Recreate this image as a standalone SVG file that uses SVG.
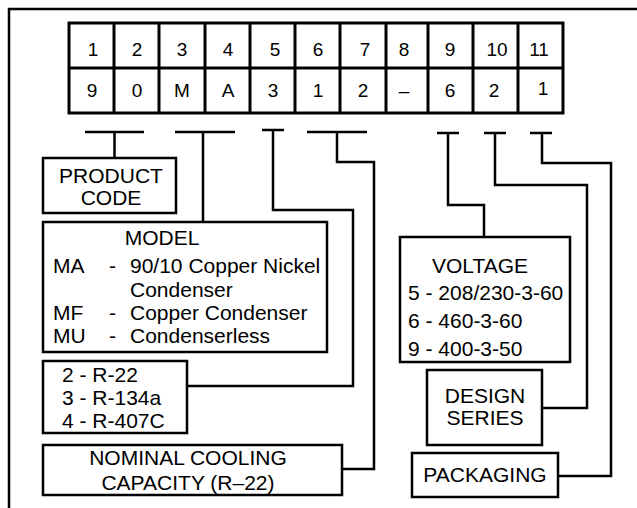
<svg xmlns="http://www.w3.org/2000/svg" width="637" height="508" viewBox="0 0 637 508">
<style>
text{font-family:"Liberation Sans",Arial,sans-serif;font-size:21px;fill:#000}
.c{text-anchor:middle}
.d{font-size:19px;text-anchor:middle}
.box{fill:#fff;stroke:#000;stroke-width:2.5}
.ln{fill:none;stroke:#000;stroke-width:2.5}
.tb{fill:none;stroke:#000;stroke-width:3}
</style>
<rect width="637" height="508" fill="#fff"/>
<path class="ln" d="M9,508 V9 H637"/>
<g id="table">
<rect class="tb" x="69" y="23" width="494" height="90"/>
<path class="tb" d="M69,68 H563 M114,23 V113 M159,23 V113 M205,23 V113 M250,23 V113 M295,23 V113 M340,23 V113 M386,23 V113 M428,23 V113 M473,23 V113 M518,23 V113"/>
<text class="d" x="93" y="56">1</text><text class="d" x="137" y="56">2</text><text class="d" x="182" y="56">3</text><text class="d" x="228" y="56">4</text><text class="d" x="275" y="56">5</text><text class="d" x="318" y="56">6</text><text class="d" x="365" y="56">7</text><text class="d" x="404" y="56">8</text><text class="d" x="450" y="56">9</text><text class="d" x="497" y="56">10</text><text class="d" x="539" y="56">11</text>
<text class="d" x="92" y="97">9</text><text class="d" x="137" y="97">0</text><text class="d" x="182" y="97">M</text><text class="d" x="228" y="97">A</text><text class="d" x="273" y="97">3</text><text class="d" x="318" y="97">1</text><text class="d" x="363" y="97">2</text><text class="d" x="404" y="97">–</text><text class="d" x="450" y="97">6</text><text class="d" x="494" y="97">2</text><text class="d" x="543" y="95">1</text>
</g>
<g id="connectors">
<path class="ln" d="M85,132 H144 M114.5,132 V158"/>
<path class="ln" d="M175,132 H235 M203,132 V222"/>
<path class="ln" d="M262,130 H284 M273,130 V210 H353 V386 H187"/>
<path class="ln" d="M307,132 H367 M337,132 V162 H374 V469 H342"/>
<path class="ln" d="M437,133 H459 M448,133 V205 H484 V237"/>
<path class="ln" d="M484,133 H506 M495,133 V185 H587 V408 H542"/>
<path class="ln" d="M530,133 H552 M542,133 V163 H611 V476 H558"/>
</g>
<g id="product-code">
<rect class="box" x="43" y="158" width="133" height="55"/>
<text class="c" x="111" y="183">PRODUCT</text>
<text class="c" x="111" y="205">CODE</text>
</g>
<g id="model">
<rect class="box" x="43" y="222" width="284" height="130"/>
<text class="c" x="162" y="245">MODEL</text>
<text x="53" y="273">MA</text><text x="109" y="273">-</text><text x="130" y="273">90/10 Copper Nickel</text>
<text x="130" y="297">Condenser</text>
<text x="53" y="320">MF</text><text x="109" y="320">-</text><text x="130" y="320">Copper Condenser</text>
<text x="53" y="343">MU</text><text x="109" y="343">-</text><text x="130" y="343">Condenserless</text>
</g>
<g id="refrigerant">
<rect class="box" x="43" y="361" width="144" height="72"/>
<text x="62" y="382">2 - R-22</text>
<text x="62" y="405">3 - R-134a</text>
<text x="62" y="428">4 - R-407C</text>
</g>
<g id="capacity">
<rect class="box" x="43" y="445" width="299" height="50"/>
<text class="c" x="188" y="465">NOMINAL COOLING</text>
<text class="c" x="188" y="490">CAPACITY (R–22)</text>
</g>
<g id="voltage">
<rect class="box" x="400" y="237" width="170" height="125"/>
<text class="c" x="480" y="273">VOLTAGE</text>
<text x="408" y="300">5 - 208/230-3-60</text>
<text x="408" y="328">6 - 460-3-60</text>
<text x="408" y="356">9 - 400-3-50</text>
</g>
<g id="design-series">
<rect class="box" x="427" y="370" width="115" height="75"/>
<text class="c" x="485" y="403">DESIGN</text>
<text class="c" x="485" y="425">SERIES</text>
</g>
<g id="packaging">
<rect class="box" x="412" y="453" width="146" height="44"/>
<text class="c" x="485" y="482">PACKAGING</text>
</g>
</svg>
